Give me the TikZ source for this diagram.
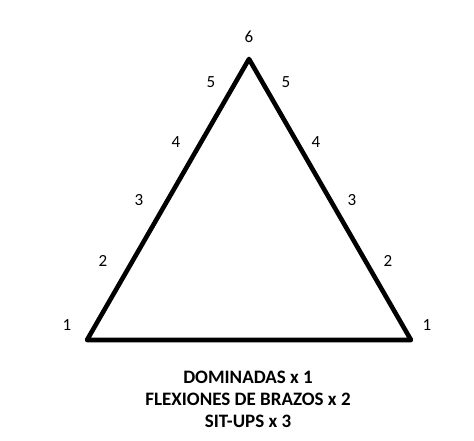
\documentclass[tikz,border=0pt]{standalone}
\usepackage{fontspec}
\setmainfont{Carlito}
\usetikzlibrary{positioning}
\tikzset{
    x=1pt,
    y=-1pt,
    num/.style = {
        shape=rectangle,
        inner sep=0pt,
        font=\fontsize{17}{17}\selectfont
    },
    side/.style = {
        draw,
        line width=4.6pt,
        line join=round
    },
    legend/.style = {
        align=center,
        inner sep=0pt,
        font=\bfseries\fontsize{19}{22}\selectfont
    },
}
\begin{document}
\begin{tikzpicture}
        \useasboundingbox (0,0) rectangle (474,441);

        \coordinate (left) at (87,340);
        \coordinate (right) at (411,340);
        \coordinate (top) at (249,59);

        %triangle
        \path[side] (left) -- (top) -- (right) -- cycle;

        %left side
        \node[num] (l1) at (67,325) {1};
        \node[num] (l2) at (103,261) {2};
        \node[num] (l3) at (139,200) {3};
        \node[num] (l4) at (176,142) {4};
        \node[num] (l5) at (211,82) {5};
        \node[num] (t6) at (249,37) {6};
        %right side
        \node[num] (r5) at (286,82) {5};
        \node[num] (r4) at (316,142) {4};
        \node[num] (r3) at (352,200) {3};
        \node[num] (r2) at (388,261) {2};
        \node[num] (r1) at (427,325) {1};

        \node[legend] (reps) at (248,399) {DOMINADAS x 1\\FLEXIONES DE BRAZOS x 2\\SIT-UPS x 3};

    \end{tikzpicture}
\end{document}
